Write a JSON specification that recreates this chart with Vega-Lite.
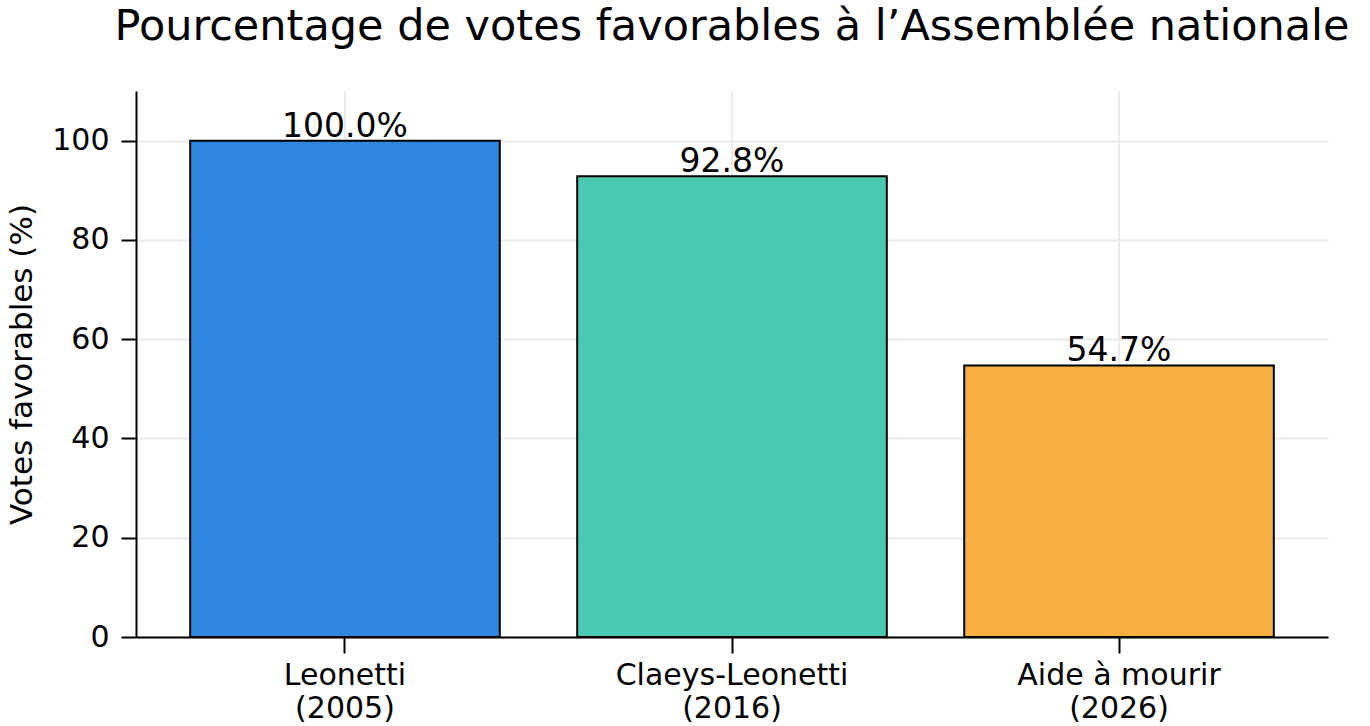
{
  "$schema": "https://vega.github.io/schema/vega-lite/v6.json",
  "autosize": {"type": "none"},
  "width": 1192,
  "height": 546,
  "padding": {"left": 136, "top": 91, "right": 42, "bottom": 89},
  "background": "white",
  "config": {
    "view": {"stroke": null},
    "font": "DejaVu Sans"
  },
  "title": {
    "text": "Pourcentage de votes favorables à l’Assemblée nationale",
    "font": "DejaVu Sans",
    "fontSize": 43,
    "fontWeight": "normal",
    "color": "black",
    "anchor": "middle",
    "frame": "group",
    "offset": 41
  },
  "data": {
    "values": [
      {"cat": "Leonetti\n(2005)", "value": 100.0, "label": "100.0%", "color": "#2E86DE"},
      {"cat": "Claeys-Leonetti\n(2016)", "value": 92.8, "label": "92.8%", "color": "#48C9B0"},
      {"cat": "Aide à mourir\n(2026)", "value": 54.7, "label": "54.7%", "color": "#F5B041"}
    ]
  },
  "encoding": {
    "x": {
      "field": "cat",
      "type": "nominal",
      "sort": null,
      "scale": {"paddingInner": 0.2, "paddingOuter": 0.14},
      "axis": {
        "title": null,
        "labelAngle": 0,
        "labelLimit": 0,
        "labelExpr": "split(datum.label, '\\n')",
        "labelFont": "DejaVu Sans",
        "labelFontSize": 30,
        "labelColor": "black",
        "labelLineHeight": 33,
        "labelPadding": 7,
        "tickColor": "black",
        "tickWidth": 2,
        "tickSize": 16,
        "domainColor": "black",
        "domainWidth": 2,
        "grid": false
      }
    }
  },
  "layer": [
    {
      "mark": {"type": "text", "fontSize": 33, "font": "DejaVu Sans", "color": "black", "baseline": "alphabetic", "dy": -4},
      "encoding": {
        "y": {"field": "value", "type": "quantitative", "scale": {"domain": [0, 110], "nice": false},
          "axis": {
            "title": "Votes favorables (%)",
            "titleFont": "DejaVu Sans",
            "titleFontSize": 31,
            "titleFontWeight": "normal",
            "titleColor": "black",
            "titlePadding": 13,
            "values": [0, 20, 40, 60, 80, 100],
            "labelFont": "DejaVu Sans",
            "labelFontSize": 30,
            "labelColor": "black",
            "labelPadding": 12,
            "tickColor": "black",
            "tickWidth": 2,
            "tickSize": 15,
            "domainColor": "black",
            "domainWidth": 2,
            "grid": true,
            "gridColor": "#ebebeb",
            "gridWidth": 2
          }
        },
        "text": {"field": "label"}
      }
    },
    {
      "mark": {"type": "rule", "color": "#ebebeb", "strokeWidth": 2},
      "encoding": {
        "x": {"field": "cat", "type": "nominal", "sort": null, "bandPosition": 0.5},
        "y": {"datum": 0, "type": "quantitative"},
        "y2": {"datum": 110}
      }
    },
    {
      "mark": {"type": "bar", "stroke": "black", "strokeWidth": 2},
      "encoding": {
        "y": {"field": "value", "type": "quantitative"},
        "color": {"field": "color", "type": "nominal", "scale": null, "legend": null}
      }
    }
  ]
}
